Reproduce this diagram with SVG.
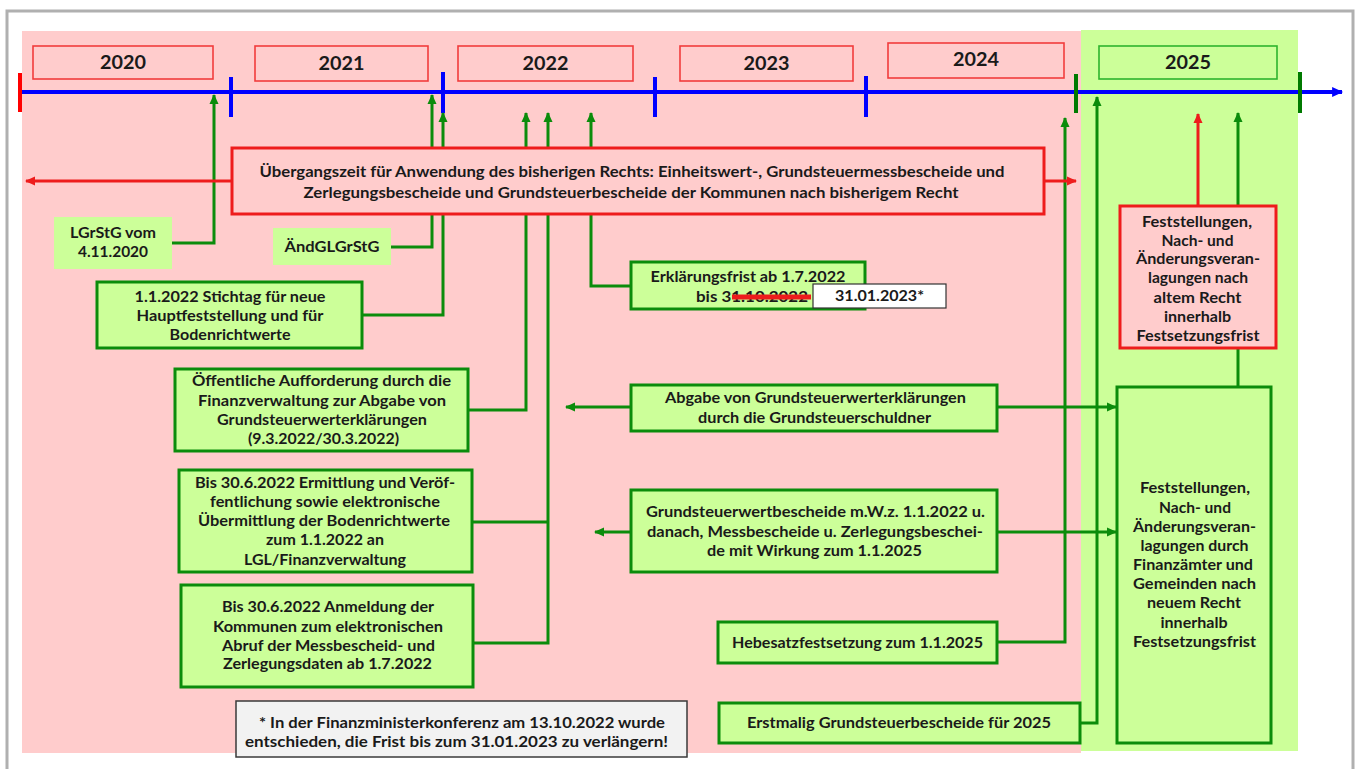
<svg xmlns="http://www.w3.org/2000/svg" width="1357" height="769" viewBox="0 0 1357 769">
<defs>
<style>
.t{font-family:Lato,"Open Sans","Liberation Sans",sans-serif;font-weight:bold;font-size:15px;fill:#1a1a1a;text-anchor:middle}
.yr{font-size:18px}
.gbox{fill:#ccff99;stroke:#0b8c0b;stroke-width:3}
.rbox{fill:#ffcccc;stroke:#ee1c1c;stroke-width:3}
.nbox{fill:#ccff99}
.yrbox{fill:none;stroke:#f23c3c;stroke-width:1.6}
.gc{fill:none;stroke:#0b8c0b;stroke-width:3}
.rc{fill:none;stroke:#ee1c1c;stroke-width:3}
</style>
<marker id="ag" viewBox="0 0 10 10" refX="9" refY="5" markerWidth="11" markerHeight="10" markerUnits="userSpaceOnUse" orient="auto"><path d="M0,0.5 L10,5 L0,9.5 z" fill="#0b8c0b"/></marker>
<marker id="ar" viewBox="0 0 10 10" refX="9" refY="5" markerWidth="11" markerHeight="10" markerUnits="userSpaceOnUse" orient="auto"><path d="M0,0.5 L10,5 L0,9.5 z" fill="#ee1c1c"/></marker>
<marker id="ab" viewBox="0 0 10 10" refX="9" refY="5" markerWidth="13" markerHeight="11" markerUnits="userSpaceOnUse" orient="auto"><path d="M0,0.5 L10,5 L0,9.5 z" fill="#0000ff"/></marker>
</defs>
<rect x="0" y="0" width="1357" height="769" fill="#ffffff"/>
<rect x="7" y="11" width="1346" height="770" fill="none" stroke="#b0b0b0" stroke-width="3"/>
<rect x="22" y="31" width="1059" height="722" fill="#ffcccc"/>
<rect x="1081" y="30" width="217" height="721" fill="#ccff99"/>

<g id="timeline">
<path d="M20,92 H1342" stroke="#0000ff" stroke-width="4" fill="none" marker-end="url(#ab)"/>
<path d="M20,73 V112" stroke="#ff0000" stroke-width="4"/>
<path d="M231,77 V117 M443,72 V113 M655,77 V117 M866,76 V117" stroke="#0000ff" stroke-width="4"/>
<path d="M1076,74 V113 M1300,72 V113" stroke="#007a00" stroke-width="4"/>
</g>

<g id="year-2020"><rect class="yrbox" x="33" y="46" width="180" height="33"/><text class="t yr" x="123" y="69" textLength="46" lengthAdjust="spacingAndGlyphs">2020</text></g>
<g id="year-2021"><rect class="yrbox" x="255" y="46" width="173" height="35"/><text class="t yr" x="341.5" y="70" textLength="46" lengthAdjust="spacingAndGlyphs">2021</text></g>
<g id="year-2022"><rect class="yrbox" x="458" y="46" width="175" height="35"/><text class="t yr" x="545.5" y="70" textLength="46" lengthAdjust="spacingAndGlyphs">2022</text></g>
<g id="year-2023"><rect class="yrbox" x="680" y="46" width="173" height="35"/><text class="t yr" x="766.5" y="70" textLength="46" lengthAdjust="spacingAndGlyphs">2023</text></g>
<g id="year-2024"><rect class="yrbox" x="888" y="43" width="176" height="35"/><text class="t yr" x="976" y="66" textLength="46" lengthAdjust="spacingAndGlyphs">2024</text></g>
<g id="year-2025"><rect x="1099" y="46" width="178" height="33" fill="none" stroke="#2db52d" stroke-width="1.6"/><text class="t yr" x="1188" y="69" textLength="46" lengthAdjust="spacingAndGlyphs">2025</text></g>

<g id="connectors">
<path class="gc" d="M172,243 H214 V95" marker-end="url(#ag)"/>
<path class="gc" d="M391,247 H432 V95" marker-end="url(#ag)"/>
<path class="gc" d="M362,315 H443 V113" marker-end="url(#ag)"/>
<path class="gc" d="M468,410 H526 V113" marker-end="url(#ag)"/>
<path class="gc" d="M472,522 H548"/>
<path class="gc" d="M473,643 H548 V113" marker-end="url(#ag)"/>
<path class="gc" d="M631,286 H591 V113" marker-end="url(#ag)"/>
<path class="gc" d="M631,407 H566" marker-end="url(#ag)"/>
<path class="gc" d="M997,407 H1116" marker-end="url(#ag)"/>
<path class="gc" d="M631,532 H595" marker-end="url(#ag)"/>
<path class="gc" d="M997,532 H1116" marker-end="url(#ag)"/>
<path class="gc" d="M997,642 H1065 V118" marker-end="url(#ag)"/>
<path class="gc" d="M1080,723 H1097 V97" marker-end="url(#ag)"/>
<path class="gc" d="M1238,387 V113" marker-end="url(#ag)"/>
<path class="rc" d="M232,181 H26" marker-end="url(#ar)"/>
<path class="rc" d="M1044,181 H1076" marker-end="url(#ar)"/>
<path class="rc" d="M1198,206 V114" marker-end="url(#ar)"/>
</g>

<g id="uebergangszeit">
<rect class="rbox" x="232" y="148" width="812" height="66"/>
<text class="t" x="632" y="177" textLength="745" lengthAdjust="spacingAndGlyphs">Übergangszeit für Anwendung des bisherigen Rechts: Einheitswert-, Grundsteuermessbescheide und</text>
<text class="t" x="631" y="198" textLength="655" lengthAdjust="spacingAndGlyphs">Zerlegungsbescheide und Grundsteuerbescheide der Kommunen nach bisherigem Recht</text>
</g>

<g id="lgrstg">
<rect class="nbox" x="54" y="217" width="118" height="52"/>
<text class="t" x="113" y="238" textLength="86" lengthAdjust="spacingAndGlyphs">LGrStG vom</text>
<text class="t" x="113" y="257" textLength="70" lengthAdjust="spacingAndGlyphs">4.11.2020</text>
</g>

<g id="aendglgrstg">
<rect class="nbox" x="273" y="228" width="118" height="37"/>
<text class="t" x="332" y="252" textLength="95" lengthAdjust="spacingAndGlyphs">ÄndGLGrStG</text>
</g>

<g id="stichtag">
<rect class="gbox" x="97" y="282" width="265" height="66"/>
<text class="t" x="230" y="302" textLength="191" lengthAdjust="spacingAndGlyphs">1.1.2022 Stichtag für neue</text>
<text class="t" x="230" y="321" textLength="187" lengthAdjust="spacingAndGlyphs">Hauptfeststellung und für</text>
<text class="t" x="230" y="340" textLength="121" lengthAdjust="spacingAndGlyphs">Bodenrichtwerte</text>
</g>

<g id="erklaerungsfrist">
<rect class="gbox" x="631" y="262" width="234" height="47"/>
<text class="t" x="748" y="282" textLength="195" lengthAdjust="spacingAndGlyphs">Erklärungsfrist ab 1.7.2022</text>
<text class="t" x="696" y="302" style="text-anchor:start" textLength="112" lengthAdjust="spacingAndGlyphs">bis 31.10.2022</text>
<path d="M732,297 H811" stroke="#ee1c1c" stroke-width="5"/>
<rect x="813" y="284" width="133" height="24" fill="#ffffff" stroke="#333333" stroke-width="1.2"/>
<text class="t" x="879.5" y="301" textLength="89" lengthAdjust="spacingAndGlyphs">31.01.2023*</text>
</g>

<g id="oeffentliche">
<rect class="gbox" x="175" y="369" width="293" height="82"/>
<text class="t" x="321.5" y="386" textLength="259" lengthAdjust="spacingAndGlyphs">Öffentliche Aufforderung durch die</text>
<text class="t" x="322" y="406" textLength="248" lengthAdjust="spacingAndGlyphs">Finanzverwaltung zur Abgabe von</text>
<text class="t" x="322" y="425" textLength="210" lengthAdjust="spacingAndGlyphs">Grundsteuerwerterklärungen</text>
<text class="t" x="323.5" y="444" textLength="151" lengthAdjust="spacingAndGlyphs">(9.3.2022/30.3.2022)</text>
</g>

<g id="ermittlung">
<rect class="gbox" x="179" y="470" width="293" height="102"/>
<text class="t" x="325" y="488" textLength="260" lengthAdjust="spacingAndGlyphs">Bis 30.6.2022 Ermittlung und Veröf-</text>
<text class="t" x="325" y="507" textLength="230" lengthAdjust="spacingAndGlyphs">fentlichung sowie elektronische</text>
<text class="t" x="324" y="526" textLength="252" lengthAdjust="spacingAndGlyphs">Übermittlung der Bodenrichtwerte</text>
<text class="t" x="325" y="545" textLength="118" lengthAdjust="spacingAndGlyphs">zum 1.1.2022 an</text>
<text class="t" x="325" y="565" textLength="162" lengthAdjust="spacingAndGlyphs">LGL/Finanzverwaltung</text>
</g>

<g id="anmeldung">
<rect class="gbox" x="181" y="585" width="292" height="102"/>
<text class="t" x="328" y="612" textLength="212" lengthAdjust="spacingAndGlyphs">Bis 30.6.2022 Anmeldung der</text>
<text class="t" x="328" y="632" textLength="230" lengthAdjust="spacingAndGlyphs">Kommunen zum elektronischen</text>
<text class="t" x="328.5" y="651" textLength="213" lengthAdjust="spacingAndGlyphs">Abruf der Messbescheid- und</text>
<text class="t" x="327.5" y="669" textLength="209" lengthAdjust="spacingAndGlyphs">Zerlegungsdaten ab 1.7.2022</text>
</g>

<g id="abgabe">
<rect class="gbox" x="631" y="385" width="366" height="46"/>
<text class="t" x="815.5" y="403" textLength="301" lengthAdjust="spacingAndGlyphs">Abgabe von Grundsteuerwerterklärungen</text>
<text class="t" x="814.5" y="423" textLength="233" lengthAdjust="spacingAndGlyphs">durch die Grundsteuerschuldner</text>
</g>

<g id="grundsteuerwertbescheide">
<rect class="gbox" x="631" y="490" width="366" height="82"/>
<text class="t" x="815.5" y="517" textLength="339" lengthAdjust="spacingAndGlyphs">Grundsteuerwertbescheide  m.W.z. 1.1.2022 u.</text>
<text class="t" x="815" y="537" textLength="336" lengthAdjust="spacingAndGlyphs">danach, Messbescheide u. Zerlegungsbeschei-</text>
<text class="t" x="814.5" y="556" textLength="215" lengthAdjust="spacingAndGlyphs">de mit Wirkung zum 1.1.2025</text>
</g>

<g id="hebesatz">
<rect class="gbox" x="718" y="622" width="279" height="41"/>
<text class="t" x="857.5" y="648" textLength="251" lengthAdjust="spacingAndGlyphs">Hebesatzfestsetzung zum 1.1.2025</text>
</g>

<g id="erstmalig">
<rect class="gbox" x="719" y="703" width="361" height="40"/>
<text class="t" x="899" y="728" textLength="304" lengthAdjust="spacingAndGlyphs">Erstmalig Grundsteuerbescheide  für 2025</text>
</g>

<g id="fussnote">
<rect x="236" y="701" width="451" height="56" fill="#f2f2f2" stroke="#3a3a3a" stroke-width="1.5"/>
<text class="t" x="462" y="728" textLength="406" lengthAdjust="spacingAndGlyphs">* In der Finanzministerkonferenz am 13.10.2022 wurde</text>
<text class="t" x="456.5" y="747" textLength="423" lengthAdjust="spacingAndGlyphs">entschieden, die Frist bis zum 31.01.2023 zu verlängern!</text>
</g>

<g id="feststellungen-alt">
<rect class="rbox" x="1120" y="206" width="156" height="142"/>
<text class="t" x="1197" y="227" textLength="110" lengthAdjust="spacingAndGlyphs">Feststellungen,</text>
<text class="t" x="1197.5" y="246" textLength="72" lengthAdjust="spacingAndGlyphs">Nach- und</text>
<text class="t" x="1198" y="264" textLength="124" lengthAdjust="spacingAndGlyphs">Änderungsveran-</text>
<text class="t" x="1198" y="283" textLength="100" lengthAdjust="spacingAndGlyphs">lagungen nach</text>
<text class="t" x="1197.5" y="303" textLength="88" lengthAdjust="spacingAndGlyphs">altem Recht</text>
<text class="t" x="1197.5" y="322" textLength="67" lengthAdjust="spacingAndGlyphs">innerhalb</text>
<text class="t" x="1198" y="341" textLength="123" lengthAdjust="spacingAndGlyphs">Festsetzungsfrist</text>
</g>

<g id="feststellungen-neu">
<rect class="gbox" x="1117" y="387" width="154" height="356"/>
<text class="t" x="1195" y="493" textLength="110" lengthAdjust="spacingAndGlyphs">Feststellungen,</text>
<text class="t" x="1195" y="513" textLength="72" lengthAdjust="spacingAndGlyphs">Nach- und</text>
<text class="t" x="1194.5" y="532" textLength="123" lengthAdjust="spacingAndGlyphs">Änderungsveran-</text>
<text class="t" x="1194.5" y="551" textLength="108" lengthAdjust="spacingAndGlyphs">lagungen durch</text>
<text class="t" x="1193" y="570" textLength="120" lengthAdjust="spacingAndGlyphs">Finanzämter und</text>
<text class="t" x="1194.5" y="589" textLength="123" lengthAdjust="spacingAndGlyphs">Gemeinden nach</text>
<text class="t" x="1194" y="608" textLength="94" lengthAdjust="spacingAndGlyphs">neuem Recht</text>
<text class="t" x="1194" y="628" textLength="67" lengthAdjust="spacingAndGlyphs">innerhalb</text>
<text class="t" x="1194.5" y="647" textLength="123" lengthAdjust="spacingAndGlyphs">Festsetzungsfrist</text>
</g>
</svg>
